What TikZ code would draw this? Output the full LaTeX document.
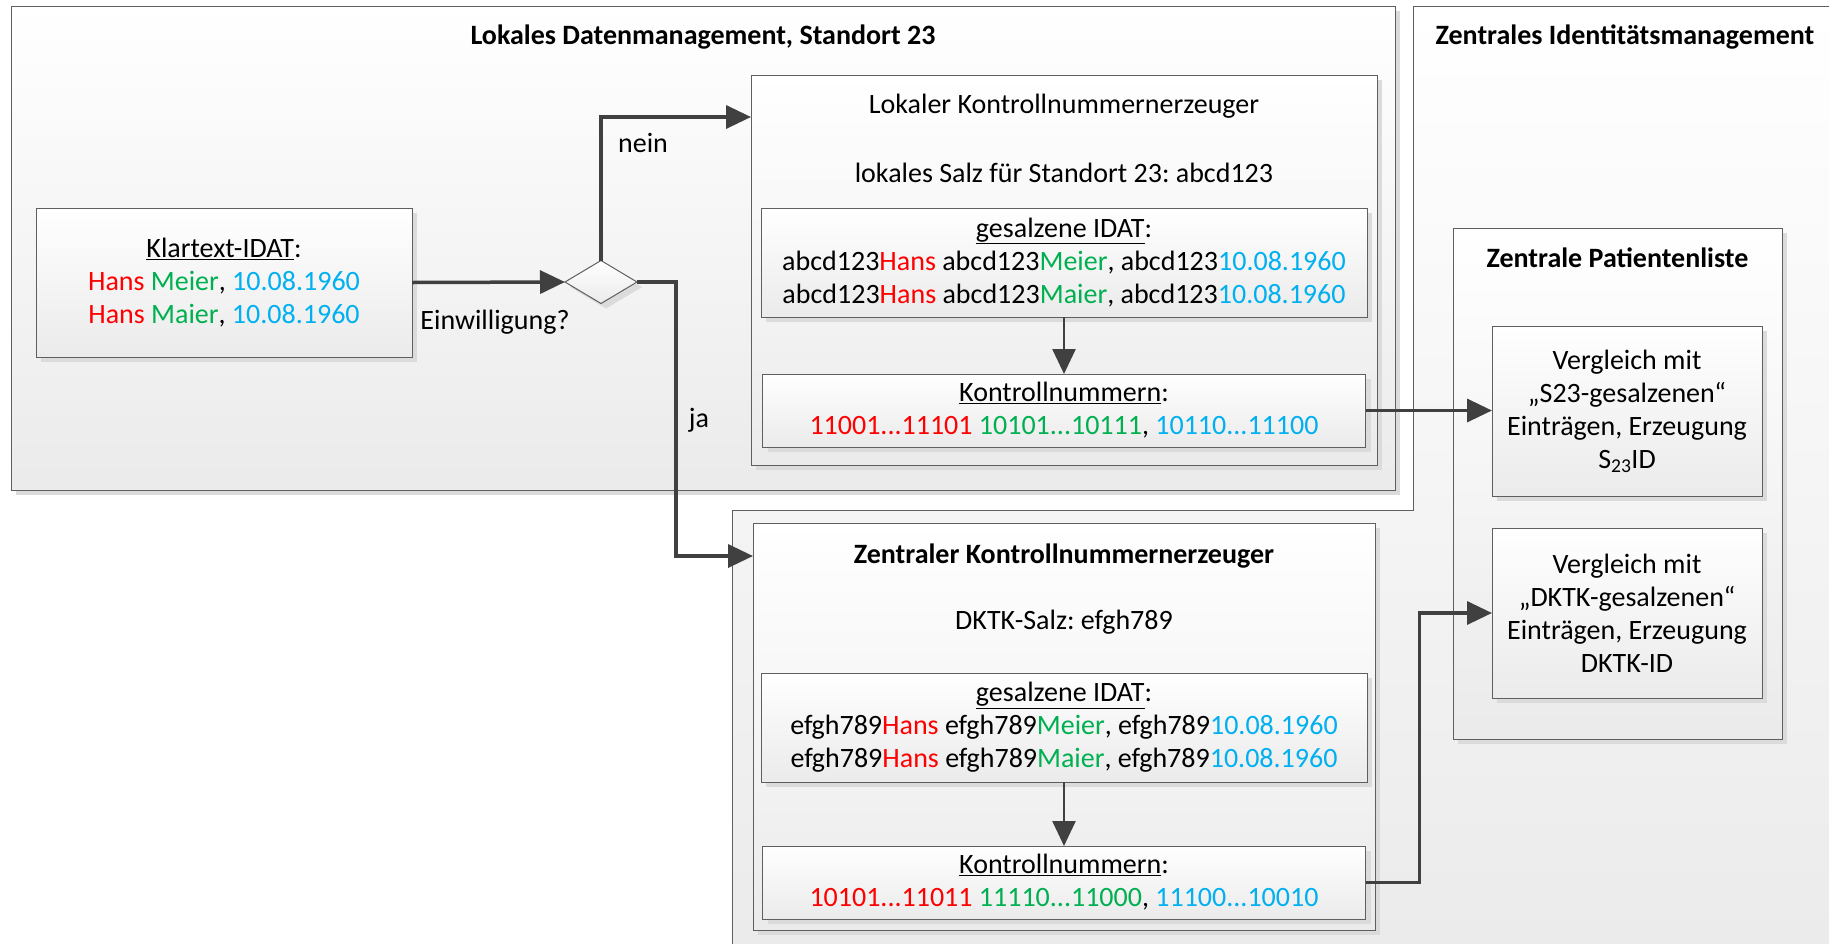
\documentclass[tikz,border=0pt]{standalone}
\usepackage{fontspec}
\setmainfont{Carlito}
\usetikzlibrary{shapes.geometric,arrows.meta,positioning,shadows}
\definecolor{rot}{RGB}{255,0,0}
\definecolor{gruen}{RGB}{0,176,80}
\definecolor{blau}{RGB}{0,176,240}
\definecolor{linie}{RGB}{64,64,64}
\definecolor{rand}{RGB}{95,95,95}
\def\Hans{\textcolor{rot}{Hans}}
\def\Meier{\textcolor{gruen}{Meier}}
\def\Maier{\textcolor{gruen}{Maier}}
\def\Datum{\textcolor{blau}{10.08.1960}}
\frenchspacing

\begin{document}
\begin{tikzpicture}[% one unit = one pixel of the drawing, y runs downwards
				x=1pt, y=-1pt,
				every node/.style={
					align=center,  		% use this so that the "\\" for line break works
					inner sep=0pt, outer sep=0pt,
					font=\fontsize{28}{33}\selectfont
				},
				kasten/.style={rectangle, draw=rand, line width=1pt, top color=white, bottom color=black!8,
					drop shadow={shadow xshift=5pt, shadow yshift=-5pt, fill=black!14, opacity=1}},
				titel/.style={font=\fontsize{28}{33}\selectfont\bfseries},
				>={Triangle[length=25pt,width=23pt]},
				pfeil/.style={draw=linie, line width=3.5pt},
				pfeilinnen/.style={draw=linie, line width=2.5pt}
			]
			\useasboundingbox (0,0) rectangle (1829,943);
			\clip (0,0) rectangle (1829,943);
			% Zentrales Identitaetsmanagement (L-shaped area)
			\path[draw=rand, line width=1pt, top color=white, bottom color=black!8]
				(1413,6) -- (1845,6) -- (1845,960) -- (732,960) -- (732,510) -- (1413,510) -- cycle;
			\node[titel](ZIt) at (1625,37){Zentrales Identitätsmanagement};
			% Lokales Datenmanagement
			\node[kasten, minimum width=1384pt, minimum height=484pt](LD) at (703,248){};
			\node[titel](LDt) at ([yshift=-31pt]LD.north){Lokales Datenmanagement, Standort 23};
			\node[kasten, minimum width=376pt, minimum height=149pt](KT) at (224,282.5){\underline{Klartext-IDAT}:\\ \Hans\ \Meier, \Datum\\ \Hans\ \Maier, \Datum};
			\node[kasten, diamond, minimum width=72pt, minimum height=43pt](D) at (601,282){};
			\node(nein) at (643,143){nein};
			\node(einw) at (495,322){Einwilligung?};
			\node(ja) at (699,420){ja};
			% lokaler Erzeuger
			\node[kasten, minimum width=626pt, minimum height=390pt](LK) at (1064,270){};
			\node(LKt) at ([yshift=-31pt]LK.north){Lokaler Kontrollnummernerzeuger};
			\node(LKs) at ([yshift=-98pt]LK.north){lokales Salz für Standort 23: abcd123};
			\node[kasten, minimum width=606pt, minimum height=109pt, below=133pt of LK.north](salzL){\underline{gesalzene IDAT}:\\ abcd123\Hans\ abcd123\Meier, abcd123\Datum\\ abcd123\Hans\ abcd123\Maier, abcd123\Datum};
			\node[kasten, minimum width=603pt, minimum height=73pt, below=57pt of salzL](KL){\underline{Kontrollnummern}:\\ \textcolor{rot}{11001...11101} \textcolor{gruen}{10101...10111}, \textcolor{blau}{10110...11100}};
			% zentraler Erzeuger
			\node[kasten, minimum width=622pt, minimum height=407pt](ZK) at (1064,726.5){};
			\node[titel](ZKt) at ([yshift=-33pt]ZK.north){Zentraler Kontrollnummernerzeuger};
			\node(ZKs) at ([yshift=-99pt]ZK.north){DKTK-Salz: efgh789};
			\node[kasten, minimum width=606pt, minimum height=109pt, below=150pt of ZK.north](salzZ){\underline{gesalzene IDAT}:\\ efgh789\Hans\ efgh789\Meier, efgh789\Datum\\ efgh789\Hans\ efgh789\Maier, efgh789\Datum};
			\node[kasten, minimum width=603pt, minimum height=73pt, below=64pt of salzZ](KZ){\underline{Kontrollnummern}:\\ \textcolor{rot}{10101...11011} \textcolor{gruen}{11110...11000}, \textcolor{blau}{11100...10010}};
			% Patientenliste
			\node[kasten, minimum width=329pt, minimum height=511pt](PL) at (1617.5,483.5){};
			\node[titel](PLt) at ([yshift=-30pt]PL.north){Zentrale Patientenliste};
			\node[kasten, minimum width=270pt, minimum height=170pt](S23) at (1627,411){Vergleich mit\\ „S23-gesalzenen“\\ Einträgen, Erzeugung\\ S\textsubscript{23}ID};
			\node[kasten, minimum width=270pt, minimum height=170pt, below=32pt of S23](DK){Vergleich mit\\ „DKTK-gesalzenen“\\ Einträgen, Erzeugung\\ DKTK-ID};
			% connectors
			\draw[pfeil,->] (KT.east) -- (D.west);
			\draw[pfeil,->] (D.north) |- ([yshift=-42pt]LK.north west);
			\draw[pfeil,->] (D.east) -- ++(39,0) |- (ZK.west |- ZKt);
			\draw[pfeilinnen,->] (salzL) -- (KL);
			\draw[pfeilinnen,->] (salzZ) -- (KZ);
			\draw[pfeil,->] (KL.east) -- (KL.east -| S23.west);
			\draw[pfeil,->] (KZ.east) -- ++(54,0) |- (DK.west);
		\end{tikzpicture}
\end{document}
